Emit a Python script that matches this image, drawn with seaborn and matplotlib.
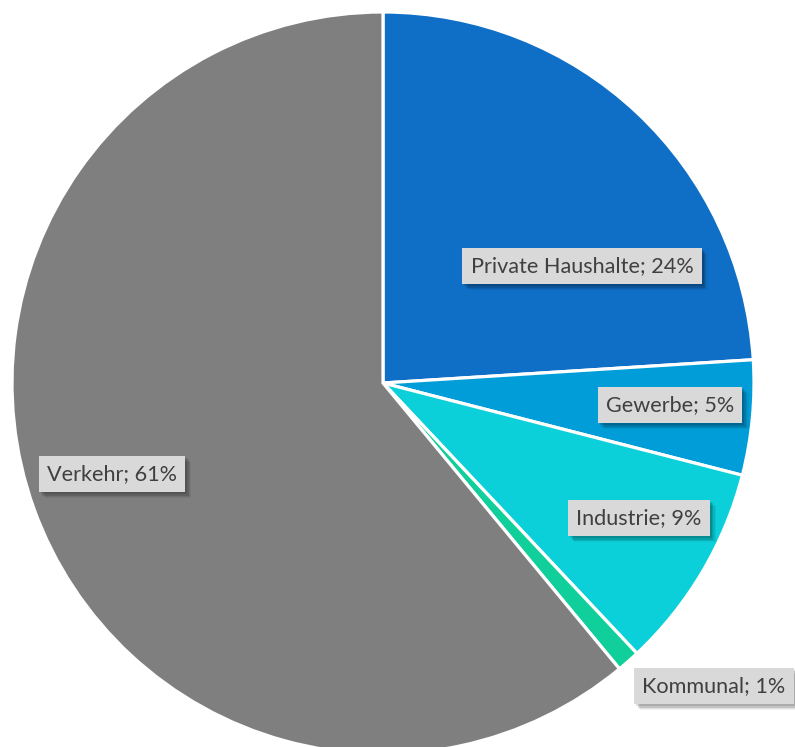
import matplotlib
matplotlib.use("Agg")
import matplotlib.pyplot as plt
import matplotlib.patheffects as pe
import seaborn as sns

# Anteile nach Sektor (Prozent)
sektoren = ["Private Haushalte", "Gewerbe", "Industrie", "Kommunal", "Verkehr"]
anteile = [24, 5, 9, 1, 61]
farben = ["#0F6FC6", "#009DD9", "#0BD0D9", "#10CF9B", "#7F7F7F"]

# Beschriftungspositionen in Pixeln (x, y von oben)
label_pos = [(582, 266), (670, 405), (639, 518), (714, 686), (112, 474)]

W, H = 795, 747
sns.set_theme(style="white")
plt.rcParams["font.family"] = ["Lato", "DejaVu Sans"]

fig = plt.figure(figsize=(W / 100, H / 100), dpi=100)
ax = fig.add_axes([0, 0, 1, 1])

palette = sns.color_palette(farben)
ax.pie(
    anteile,
    colors=palette,
    startangle=90,
    counterclock=False,
    center=(383, H - 383),
    radius=371,
    wedgeprops=dict(edgecolor="white", linewidth=2.3),
    frame=True,
)
ax.set_xlim(0, W)
ax.set_ylim(0, H)
ax.set_aspect("equal")
ax.axis("off")

# weicher Schatten unten rechts aus mehreren versetzten Lagen
shadow = [
    pe.SimplePatchShadow(offset=(o, -o), shadow_rgbFace="black", alpha=a)
    for o, a in [(4.5, 0.05), (3.5, 0.08), (2.5, 0.12), (1.5, 0.12)]
] + [pe.Normal()]

for name, wert, (px, py) in zip(sektoren, anteile, label_pos):
    t = ax.text(
        px, H - py, f"{name}; {wert}%",
        ha="center", va="center", fontsize=15.6, color="#404040",
        bbox=dict(boxstyle="square,pad=0.38", facecolor="#D9D9D9", edgecolor="none"),
        clip_on=False,
    )
    t.get_bbox_patch().set_path_effects(shadow)

fig.savefig("out.png", dpi=100, facecolor="white")
